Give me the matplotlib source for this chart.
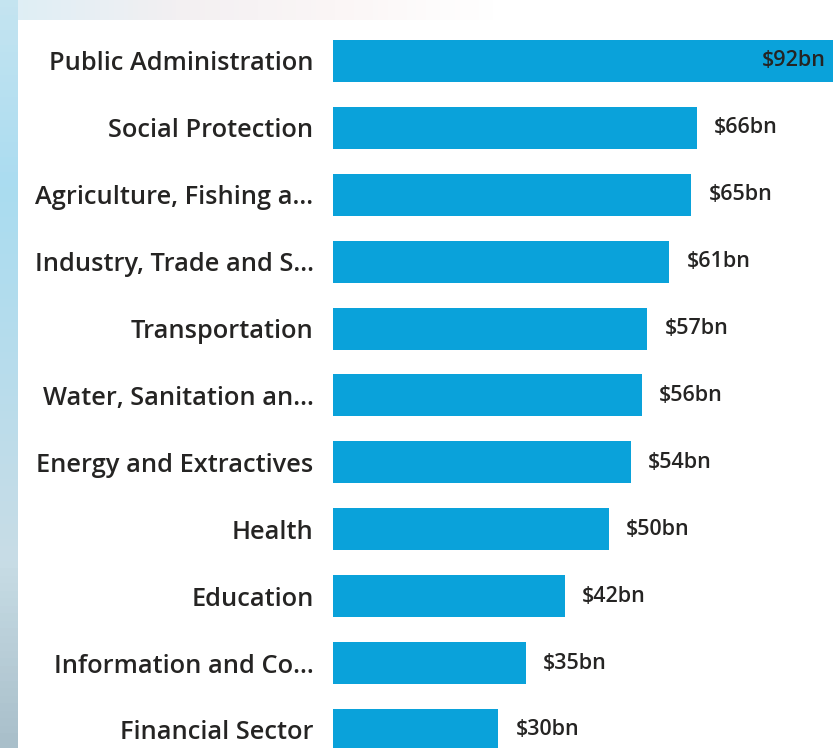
import matplotlib.pyplot as plt
import numpy as np

# sector spending, top to bottom as shown
sectors = ["Public Administration", "Social Protection", "Agriculture, Fishing a...",
           "Industry, Trade and S...", "Transportation", "Water, Sanitation an...",
           "Energy and Extractives", "Health", "Education", "Information and Co...",
           "Financial Sector"]
values = [92, 66, 65, 61, 57, 56, 54, 50, 42, 35, 30]
labels = ["$" + str(v) + "bn" for v in values]

W, H = 833, 748
fig = plt.figure(figsize=(W / 100, H / 100), dpi=100)
fig.patch.set_facecolor("white")

# background strip on the left (photo behind the panel)
bg = fig.add_axes([0, 0, 18 / W, 1])
grad = np.linspace(0, 1, 100).reshape(-1, 1)
cmap = plt.matplotlib.colors.LinearSegmentedColormap.from_list(
    "bgc", ["#c4e4f0", "#aadcf0", "#b8dcec", "#c8dde6", "#a9bfca"])
bg.imshow(grad, aspect="auto", cmap=cmap, extent=[0, 1, 0, 1])
bg.axis("off")
top = fig.add_axes([18 / W, 1 - 20 / H, 480 / W, 20 / H])
top.imshow(np.linspace(0, 1, 100).reshape(1, -1), aspect="auto",
           cmap=plt.matplotlib.colors.LinearSegmentedColormap.from_list(
               "tc", ["#dfeef5", "#f3f0f2", "#fbf6f6", "#ffffff"]), extent=[0, 1, 0, 1])
top.axis("off")

ax = fig.add_axes([333 / W, 0, 1 - 333 / W, 1])
ax.patch.set_visible(False)
px_per = 5.515
xmax = (W - 333) / px_per
ax.set_xlim(0, xmax)
spacing = 66.9
c0 = 61
ax.set_ylim((H - c0) / spacing, -c0 / spacing)

y = np.arange(len(sectors))
ax.barh(y, values, height=42 / spacing, color="#0AA2DA")

font = "Open Sans"
for i, (v, lab) in enumerate(zip(values, labels)):
    if v >= xmax:
        ax.text(xmax - 7 / px_per, i, lab, ha="right", va="center", fontsize=15.5,
                family=font, weight="semibold", color="#252423")
    else:
        ax.text(v + 17 / px_per, i, lab, ha="left", va="center", fontsize=15.5,
                family=font, weight="semibold", color="#252423")

ax.set_yticks(y)
ax.set_yticklabels(sectors, family=font, weight="semibold", fontsize=18.3, color="#252423")
ax.tick_params(axis="y", length=0, pad=14)
ax.set_xticks([])
for s in ax.spines.values():
    s.set_visible(False)

fig.savefig("out.png", dpi=100)
